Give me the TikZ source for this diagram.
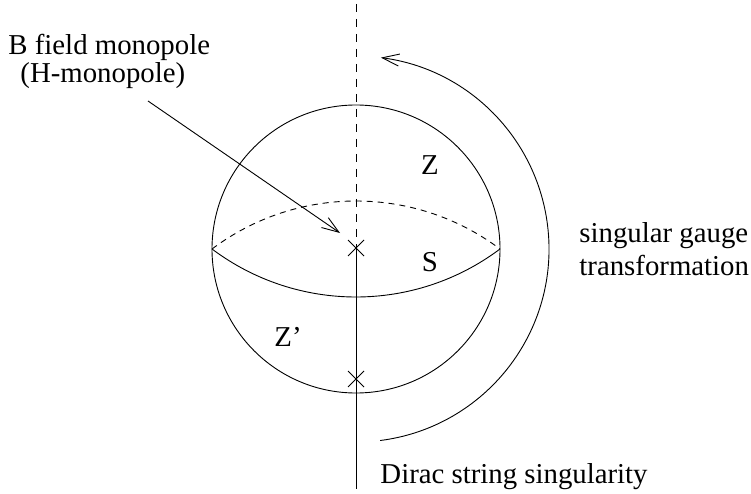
\documentclass[tikz,border=0pt]{standalone}
\usepackage{fontspec}
\setmainfont{Liberation Serif}
\usetikzlibrary{arrows.meta}
\begin{document}
\begin{tikzpicture}[x=1pt,y=1pt,
  line width=0.9pt,
  lbl/.style={inner sep=0pt,font=\fontsize{28.8}{30}\selectfont},
  barb/.style={-{Straight Barb[length=17pt,width=12pt,line width=0.9pt]}},
  dsh/.style={dash pattern=on 8pt off 7pt},
  eqdsh/.style={dash pattern=on 6pt off 5pt}]
\useasboundingbox (0,0) rectangle (751,-494);
% sphere
\coordinate (C) at (356,-249);
\draw (C) circle[radius=144];
\coordinate (W) at (212,-249);
\coordinate (E) at (500,-249);
\draw (W) arc[start angle=233.13,end angle=306.87,radius=240];
\draw[eqdsh] (W) arc[start angle=126.87,end angle=53.13,radius=240];
% string axis
\coordinate (top) at (356,-4);
\coordinate (m1) at (356,-248);
\coordinate (m2) at (356,-379);
\coordinate (bot) at (356,-489);
\draw[dsh] (top) -- (m1);
\draw (m1) -- (bot);
% crosses
\foreach \m in {m1,m2}{
  \draw ([shift={(-8,8)}]\m) -- ([shift={(8,-8)}]\m);
  \draw ([shift={(-8,-8)}]\m) -- ([shift={(8,8)}]\m);
}
% gauge arrow arc
\coordinate (g0) at (380.2,-440.5);
\draw[barb] (g0) arc[start angle=-82.8,end angle=82.6,radius=193];
% pointer arrow
\coordinate (p0) at (148,-101);
\coordinate (p1) at (340,-233);
\draw[barb] (p0) -- (p1);
% labels
\node[lbl,anchor=base west] (t1) at (8,-55) {B field monopole};
\node[lbl,anchor=base west] (t2) at (20,-83) {(H-monopole)};
\node[lbl] (Z) at (430,-165) {Z};
\node[lbl] (S) at (430,-262) {S};
\node[lbl] (Zp) at (288,-337) {Z’};
\node[lbl,anchor=base west] (g1) at (579,-242) {singular gauge};
\node[lbl,anchor=base west] (g2) at (579,-275) {transformation};
\node[lbl,anchor=base west] (d) at (380,-483) {Dirac string singularity};
\end{tikzpicture}
\end{document}
